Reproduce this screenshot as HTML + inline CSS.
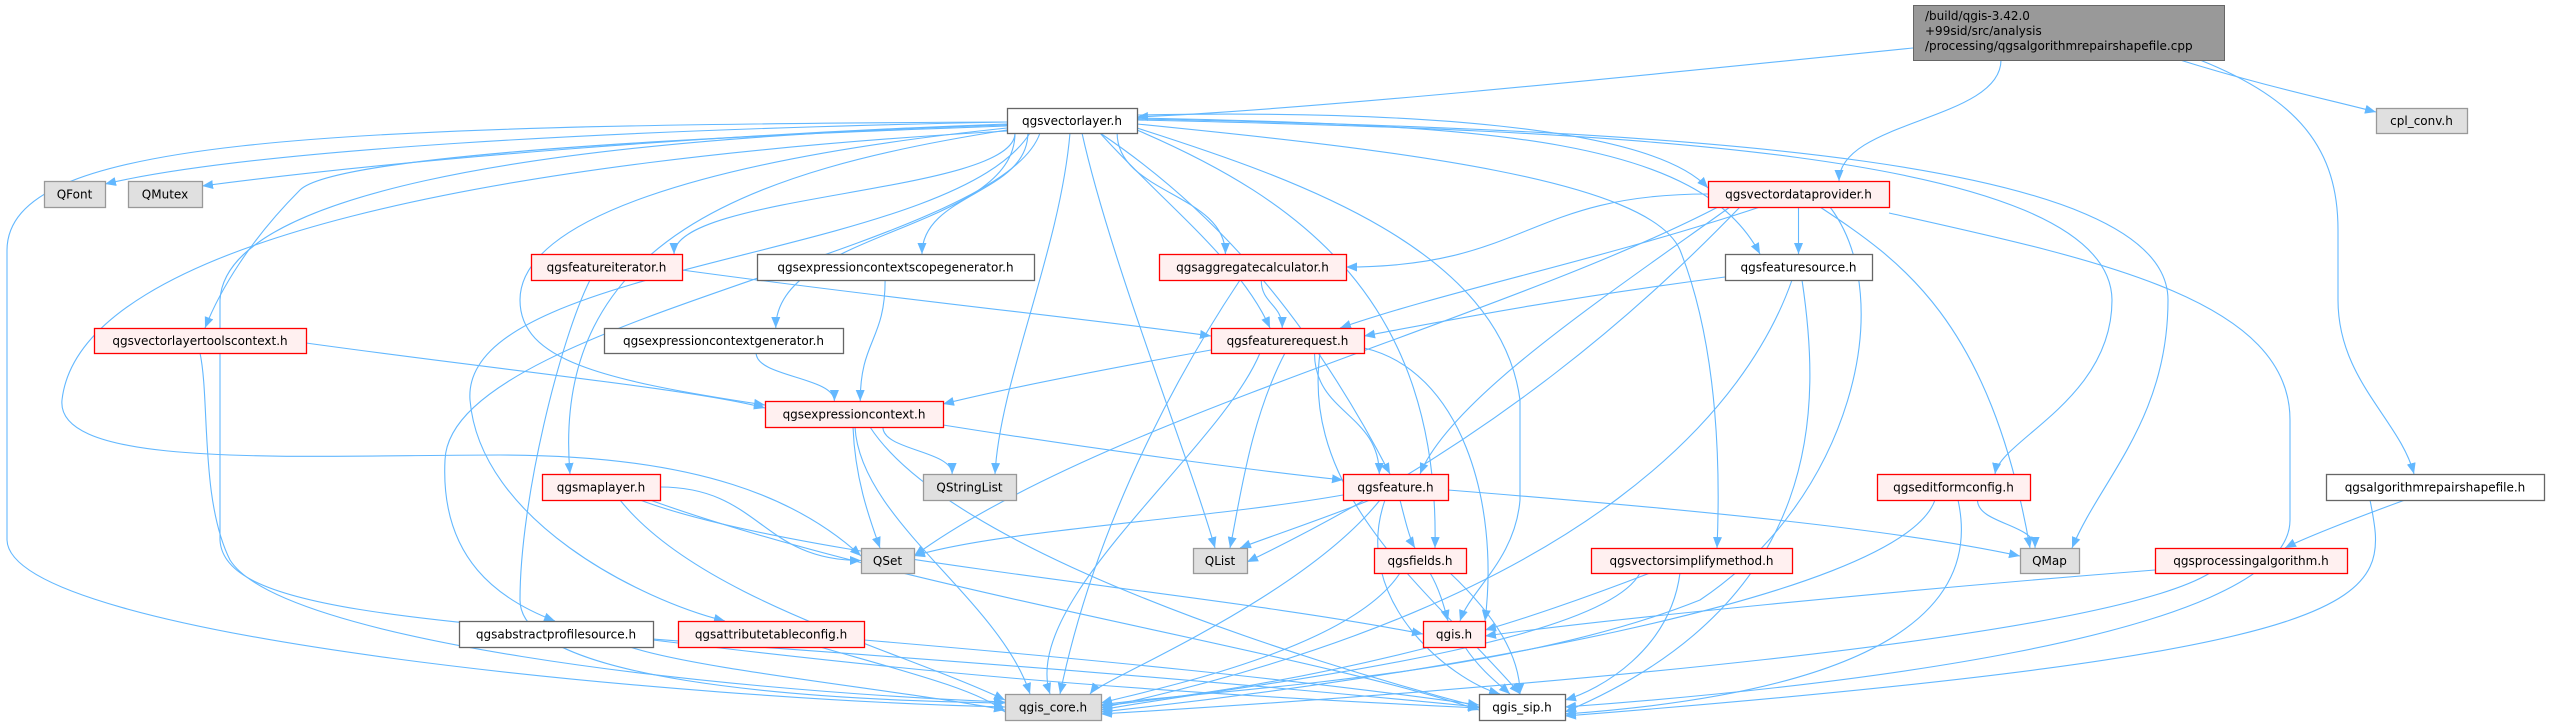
<!DOCTYPE html>
<html><head><meta charset="utf-8"><style>
html,body{margin:0;padding:0;background:#fff;}
svg{display:block;}
text{font-family:"DejaVu Sans","Liberation Sans",sans-serif;font-size:12px;fill:#000;}
</style></head><body>
<svg id="g" xmlns="http://www.w3.org/2000/svg" width="2549" height="725" viewBox="0 0 2549 725">
<defs><marker id="a" markerUnits="userSpaceOnUse" markerWidth="12" markerHeight="10" refX="11" refY="4.5" orient="auto"><path d="M0,0 L11,4.5 L0,9 Z" fill="#63b8ff"/></marker></defs>
<g id="edges" fill="none" stroke="#63b8ff" stroke-width="1.1"></g>
<g id="nodes">
<rect x="1913.5" y="5.5" width="311" height="55" fill="#999999" stroke="#666666"/>
<text x="1925" y="20">/build/qgis-3.42.0</text>
<text x="1925" y="35">+99sid/src/analysis</text>
<text x="1925" y="50">/processing/qgsalgorithmrepairshapefile.cpp</text>
</g>
</svg>
<script>
var N={
vl:[1007,108,1137,133,'qgsvectorlayer.h','w'],
cpl:[2376,108,2467,133,'cpl_conv.h','g'],
qfont:[44,181,105,207,'QFont','g'],
qmutex:[128,181,202,207,'QMutex','g'],
vdp:[1708,181,1889,207,'qgsvectordataprovider.h','r'],
fit:[531,254,682,280,'qgsfeatureiterator.h','r'],
ecsg:[757,254,1034,280,'qgsexpressioncontextscopegenerator.h','w'],
agg:[1159,254,1346,280,'qgsaggregatecalculator.h','r'],
fsrc:[1725,254,1872,280,'qgsfeaturesource.h','w'],
vltc:[94,328,306,353,'qgsvectorlayertoolscontext.h','r'],
ecg:[604,328,843,353,'qgsexpressioncontextgenerator.h','w'],
freq:[1211,328,1364,353,'qgsfeaturerequest.h','r'],
ec:[765,401,943,427,'qgsexpressioncontext.h','r'],
ml:[542,474,660,500,'qgsmaplayer.h','r'],
qsl:[923,474,1016,500,'QStringList','g'],
feat:[1343,474,1448,500,'qgsfeature.h','r'],
efc:[1877,474,2030,500,'qgseditformconfig.h','r'],
ars:[2326,474,2544,500,'qgsalgorithmrepairshapefile.h','w'],
qset:[861,548,914,573,'QSet','g'],
qlist:[1193,548,1247,573,'QList','g'],
fields:[1374,548,1466,573,'qgsfields.h','r'],
vsm:[1591,548,1792,573,'qgsvectorsimplifymethod.h','r'],
qmap:[2020,548,2079,573,'QMap','g'],
proc:[2155,548,2347,573,'qgsprocessingalgorithm.h','r'],
aps:[459,621,653,647,'qgsabstractprofilesource.h','w'],
atc:[678,621,864,647,'qgsattributetableconfig.h','r'],
qgis:[1423,621,1485,647,'qgis.h','r'],
core:[1005,694,1101,720,'qgis_core.h','g'],
sip:[1479,694,1565,720,'qgis_sip.h','w']};
N.root=[1913,5,2224,60];
var sty={w:['#ffffff','#666666'],g:['#e0e0e0','#999999'],r:['#fff0f0','#ff0000']};
var ns='http://www.w3.org/2000/svg',ng=document.getElementById('nodes'),eg=document.getElementById('edges');
for(var k in N){if(k=='root')continue;var n=N[k],r=document.createElementNS(ns,'rect');
r.setAttribute('x',n[0]+.5);r.setAttribute('y',n[1]+.5);r.setAttribute('width',n[2]-n[0]);r.setAttribute('height',n[3]-n[1]);
r.setAttribute('fill',sty[n[5]][0]);r.setAttribute('stroke',sty[n[5]][1]);r.setAttribute('stroke-width',n[5]=='r'?1.3:1.3);ng.appendChild(r);
var t=document.createElementNS(ns,'text');t.setAttribute('x',(n[0]+n[2])/2);t.setAttribute('y',(n[1]+n[3])/2+4.5);t.setAttribute('text-anchor','middle');t.textContent=n[4];ng.appendChild(t);}
function P(d){var p=document.createElementNS(ns,'path');p.setAttribute('d',d);p.setAttribute('marker-end','url(#a)');eg.appendChild(p);}
function E(s,t){var a=N[s],b=N[t];var acx=(a[0]+a[2])/2,bcx=(b[0]+b[2])/2;
var sx=Math.max(a[0]+8,Math.min(a[2]-8,acx+(bcx-acx)*0.25)),sy=a[3];
var tx=Math.max(b[0]+8,Math.min(b[2]-8,bcx+(acx-bcx)*0.15)),ty=b[1];
var my=(sy+ty)/2;P('M'+sx+','+sy+' C'+sx+','+(sy+(ty-sy)*0.5)+' '+tx+','+(ty-(ty-sy)*0.5)+' '+tx+','+ty);}
function S(s,t,dir){var a=N[s],b=N[t];var sy=(a[1]+a[3])/2,ty=(b[1]+b[3])/2;var sx=dir>0?a[2]:a[0],tx=dir>0?b[0]:b[2];P('M'+sx+','+sy+' C'+(sx+tx)/2+','+sy+' '+(sx+tx)/2+','+ty+' '+tx+','+ty);}
// root
P('M1913,48 C1600,80 1300,110 1137,117');
E('root','vdp');
P('M2180,60 C2260,85 2330,100 2376,112');
P('M2200,60 C2300,100 2338,150 2338,230 L2338,300 C2338,380 2400,420 2414,474');
// vectorlayer fanout
P('M1007,122 C600,130 250,150 105,184');
P('M1007,124 C700,135 400,160 202,186');
P('M1007,126 C600,140 330,160 300,190 C250,240 220,290 205,328');
E('vl','fit');E('vl','ecg');E('vl','ecsg');E('vl','agg');
P('M1100,133 C1160,200 1240,260 1270,328');
P('M1007,128 C700,160 520,220 520,300 C520,360 600,380 765,405');
P('M1007,130 C750,170 550,240 570,474');
P('M1070,133 C1060,250 1000,380 995,474');
P('M1082,133 C1110,260 1190,460 1215,548');
P('M1007,131 C500,160 80,240 62,400 C55,470 300,455 500,455 C700,455 800,500 861,556');
P('M1100,133 C1200,200 1300,300 1390,474');
P('M1137,130 C1300,200 1440,300 1435,548');
P('M1137,128 C1300,180 1500,250 1520,400 L1520,500 C1515,560 1470,590 1460,621');
P('M1007,122 C300,125 8,140 7,250 L7,540 C10,640 700,700 1005,707');
P('M1007,125 C500,140 225,200 220,300 L220,540 C225,640 600,620 1479,707');
P('M1040,133 C1000,250 450,320 445,460 C440,560 500,600 555,621');
P('M1030,133 C950,260 460,260 470,400 C480,520 640,600 725,621');
P('M1137,115 C1400,110 1650,125 1708,188');
P('M1137,118 C1500,125 1700,140 1760,254');
P('M1137,120 C1600,130 2110,150 2112,300 C2112,400 2000,440 1995,474');
P('M1137,119 C1700,130 2168,160 2168,300 C2168,420 2100,480 2072,548');
P('M1137,124 C1400,150 1650,180 1680,250 C1720,350 1720,480 1717,548');
// vdp
S('vdp','agg',-1);
P('M1760,207 C1600,260 1450,290 1340,328');
E('vdp','fsrc');
P('M1730,207 C1600,300 1450,400 1420,474');
P('M1718,207 C1500,320 1100,420 914,556');
P('M1740,207 C1650,300 1500,440 1247,562');
P('M1820,207 C1900,260 1990,320 2030,548');
P('M1830,207 C1900,300 1850,500 1700,600 C1500,680 1200,690 1101,705');
P('M1889,213 C2100,260 2290,300 2290,420 L2290,520 C2290,640 1800,690 1565,707');
// others
P('M682,270 C900,300 1100,320 1211,336');
P('M590,280 C560,340 520,500 520,600 C520,680 800,700 1005,703');
E('ecsg','ec');E('ecg','ec');
P('M306,343 C500,370 700,390 765,408');
P('M200,353 C210,400 200,500 230,560 C280,640 700,690 1005,702');
P('M1240,280 C1200,340 1100,500 1060,694');
E('agg','freq');
P('M1725,277 C1550,300 1450,320 1364,336');
P('M1792,280 C1750,400 1600,600 1101,708');
P('M1802,280 C1820,400 1830,600 1565,712');
P('M1211,350 C1100,370 1000,390 943,404');
E('freq','feat');
P('M1364,348 C1460,370 1500,500 1485,621');
P('M1285,353 C1250,420 1240,500 1230,548');
P('M1260,353 C1220,450 1020,600 1050,694');
P('M1320,353 C1300,500 1440,600 1520,694');
P('M943,425 C1100,450 1250,470 1343,480');
E('ec','qsl');
P('M853,427 C855,480 870,520 880,548');
P('M855,427 C860,520 1000,600 1030,694');
P('M870,427 C950,550 1300,660 1479,707');
S('ml','qset',1);
P('M640,500 C800,560 1200,590 1423,634');
P('M620,500 C700,600 900,650 1005,700');
P('M650,500 C900,590 1300,650 1479,710');
P('M1343,495 C1200,520 1000,530 914,556');
P('M1370,500 C1320,520 1260,540 1240,548');
P('M1400,500 C1405,520 1410,540 1415,548');
P('M1448,490 C1700,510 1900,530 2020,556');
P('M1380,500 C1300,600 1100,680 1090,694');
P('M1385,500 C1350,600 1450,680 1500,694');
P('M1400,573 C1350,650 1150,690 1101,703');
P('M1430,573 C1440,590 1445,610 1448,621');
P('M1450,573 C1500,620 1520,660 1520,694');
P('M1430,647 C1300,680 1200,695 1101,706');
P('M1465,647 C1480,670 1500,685 1510,694');
P('M1650,573 C1580,600 1520,620 1485,630');
P('M1640,573 C1600,650 1200,690 1101,710');
P('M1680,573 C1670,650 1600,690 1565,700');
P('M1935,500 C1900,600 1400,680 1101,712');
P('M1958,500 C1980,600 1900,690 1565,714');
E('efc','qmap');
P('M2405,500 C2350,520 2300,540 2285,548');
P('M2370,500 C2390,600 2400,650 1565,716');
P('M2155,570 C1900,590 1600,620 1485,636');
P('M2210,573 C2100,640 1500,690 1101,714');
P('M653,640 C900,670 1100,690 1479,708');
P('M630,647 C700,670 900,690 1005,710');
P('M864,640 C1100,660 1300,680 1479,705');
P('M820,647 C900,670 980,690 1005,712');
</script>
</body></html>
